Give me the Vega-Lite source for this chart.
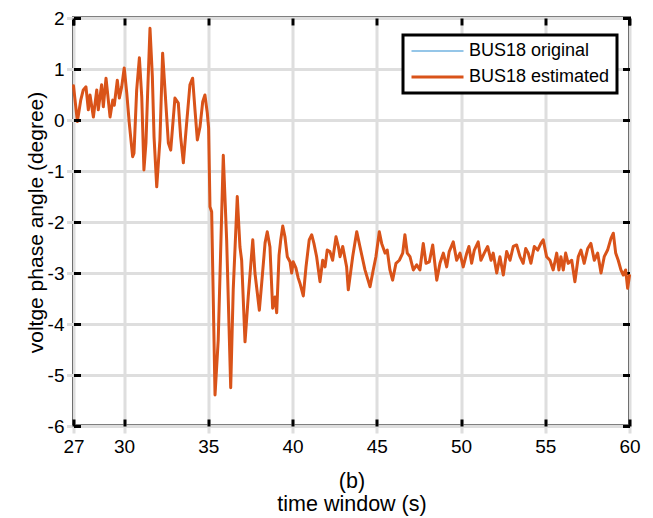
{
 "$schema": "https://vega.github.io/schema/vega-lite/v6.json",
 "width": 556, "height": 408,
 "autosize": {"type": "none"},
 "padding": {"left": 73.5, "top": 18, "right": 23.5, "bottom": 92},
 "background": "white",
 "config": {
   "font": "Liberation Sans",
   "view": {"stroke": "black", "strokeWidth": 3},
   "axis": {"labelFont": "Liberation Sans", "labelFontSize": 19, "labelColor": "black", "titleFont": "Liberation Sans", "titleFontSize": 21, "titleFontWeight": "normal", "titleColor": "black", "gridColor": "#dedede", "gridWidth": 3, "gridOpacity": 1, "domain": false, "ticks": true, "tickColor": "black", "tickOpacity": 1, "tickWidth": 3, "tickSize": 7, "offset": -7}
 },
 "data": {"values": [
  {"t":27.0,"original":0.67,"estimated":0.67},{"t":27.23,"original":-0.03,"estimated":-0.03},{"t":27.43,"original":0.39,"estimated":0.39},{"t":27.58,"original":0.59,"estimated":0.59},{"t":27.74,"original":0.65,"estimated":0.65},{"t":27.88,"original":0.2,"estimated":0.2},{"t":27.98,"original":0.49,"estimated":0.49},{"t":28.18,"original":0.06,"estimated":0.06},{"t":28.38,"original":0.59,"estimated":0.59},{"t":28.47,"original":0.2,"estimated":0.2},{"t":28.67,"original":0.69,"estimated":0.69},{"t":28.77,"original":0.26,"estimated":0.26},{"t":28.93,"original":0.82,"estimated":0.82},{"t":29.17,"original":0.06,"estimated":0.06},{"t":29.33,"original":0.39,"estimated":0.39},{"t":29.42,"original":0.29,"estimated":0.29},{"t":29.6,"original":0.78,"estimated":0.78},{"t":29.72,"original":0.43,"estimated":0.43},{"t":29.86,"original":0.65,"estimated":0.65},{"t":30.01,"original":1.02,"estimated":1.02},{"t":30.16,"original":0.53,"estimated":0.53},{"t":30.31,"original":-0.06,"estimated":-0.06},{"t":30.51,"original":-0.72,"estimated":-0.72},{"t":30.59,"original":-0.65,"estimated":-0.65},{"t":30.75,"original":0.59,"estimated":0.59},{"t":30.91,"original":1.22,"estimated":1.22},{"t":31.05,"original":0.46,"estimated":0.46},{"t":31.18,"original":-0.98,"estimated":-0.98},{"t":31.3,"original":-0.45,"estimated":-0.45},{"t":31.4,"original":0.53,"estimated":0.53},{"t":31.54,"original":1.8,"estimated":1.8},{"t":31.68,"original":0.85,"estimated":0.85},{"t":31.78,"original":-0.33,"estimated":-0.33},{"t":31.94,"original":-1.31,"estimated":-1.31},{"t":32.13,"original":-0.39,"estimated":-0.39},{"t":32.29,"original":1.31,"estimated":1.31},{"t":32.43,"original":0.59,"estimated":0.59},{"t":32.63,"original":-0.45,"estimated":-0.45},{"t":32.77,"original":-0.59,"estimated":-0.59},{"t":33.02,"original":0.43,"estimated":0.43},{"t":33.22,"original":0.33,"estimated":0.33},{"t":33.36,"original":-0.33,"estimated":-0.33},{"t":33.52,"original":-0.84,"estimated":-0.84},{"t":33.68,"original":-0.2,"estimated":-0.2},{"t":33.91,"original":0.69,"estimated":0.69},{"t":34.07,"original":0.82,"estimated":0.82},{"t":34.21,"original":0.2,"estimated":0.2},{"t":34.35,"original":-0.39,"estimated":-0.39},{"t":34.51,"original":-0.13,"estimated":-0.13},{"t":34.67,"original":0.36,"estimated":0.36},{"t":34.8,"original":0.49,"estimated":0.49},{"t":34.94,"original":0.14,"estimated":0.14},{"t":35.02,"original":-0.16,"estimated":-0.16},{"t":35.1,"original":-1.7,"estimated":-1.7},{"t":35.2,"original":-1.8,"estimated":-1.8},{"t":35.4,"original":-5.39,"estimated":-5.39},{"t":35.59,"original":-4.31,"estimated":-4.31},{"t":35.89,"original":-0.69,"estimated":-0.69},{"t":36.09,"original":-2.35,"estimated":-2.35},{"t":36.33,"original":-5.25,"estimated":-5.25},{"t":36.48,"original":-3.33,"estimated":-3.33},{"t":36.72,"original":-1.5,"estimated":-1.5},{"t":36.88,"original":-2.49,"estimated":-2.49},{"t":36.98,"original":-2.75,"estimated":-2.75},{"t":37.18,"original":-4.35,"estimated":-4.35},{"t":37.37,"original":-3.47,"estimated":-3.47},{"t":37.64,"original":-2.35,"estimated":-2.35},{"t":37.77,"original":-3.0,"estimated":-3.0},{"t":38.03,"original":-3.73,"estimated":-3.73},{"t":38.17,"original":-3.2,"estimated":-3.2},{"t":38.37,"original":-2.41,"estimated":-2.41},{"t":38.5,"original":-2.19,"estimated":-2.19},{"t":38.66,"original":-2.49,"estimated":-2.49},{"t":38.82,"original":-3.69,"estimated":-3.69},{"t":38.96,"original":-3.47,"estimated":-3.47},{"t":39.06,"original":-3.78,"estimated":-3.78},{"t":39.2,"original":-2.65,"estimated":-2.65},{"t":39.3,"original":-2.35,"estimated":-2.35},{"t":39.42,"original":-2.08,"estimated":-2.08},{"t":39.55,"original":-2.29,"estimated":-2.29},{"t":39.69,"original":-2.68,"estimated":-2.68},{"t":39.85,"original":-2.78,"estimated":-2.78},{"t":39.95,"original":-3.0,"estimated":-3.0},{"t":40.04,"original":-2.78,"estimated":-2.78},{"t":40.2,"original":-2.9,"estimated":-2.9},{"t":40.34,"original":-3.1,"estimated":-3.1},{"t":40.44,"original":-3.2,"estimated":-3.2},{"t":40.64,"original":-3.45,"estimated":-3.45},{"t":40.8,"original":-2.88,"estimated":-2.88},{"t":40.99,"original":-2.35,"estimated":-2.35},{"t":41.14,"original":-2.25,"estimated":-2.25},{"t":41.27,"original":-2.42,"estimated":-2.42},{"t":41.43,"original":-2.68,"estimated":-2.68},{"t":41.63,"original":-3.17,"estimated":-3.17},{"t":41.79,"original":-2.75,"estimated":-2.75},{"t":41.93,"original":-2.88,"estimated":-2.88},{"t":42.06,"original":-2.55,"estimated":-2.55},{"t":42.22,"original":-2.58,"estimated":-2.58},{"t":42.38,"original":-2.75,"estimated":-2.75},{"t":42.58,"original":-2.29,"estimated":-2.29},{"t":42.72,"original":-2.48,"estimated":-2.48},{"t":42.82,"original":-2.68,"estimated":-2.68},{"t":42.98,"original":-2.48,"estimated":-2.48},{"t":43.21,"original":-2.88,"estimated":-2.88},{"t":43.31,"original":-3.33,"estimated":-3.33},{"t":43.57,"original":-2.68,"estimated":-2.68},{"t":43.81,"original":-2.19,"estimated":-2.19},{"t":44.0,"original":-2.48,"estimated":-2.48},{"t":44.3,"original":-2.94,"estimated":-2.94},{"t":44.6,"original":-3.27,"estimated":-3.27},{"t":44.79,"original":-2.94,"estimated":-2.94},{"t":44.95,"original":-2.68,"estimated":-2.68},{"t":45.15,"original":-2.19,"estimated":-2.19},{"t":45.29,"original":-2.42,"estimated":-2.42},{"t":45.49,"original":-2.61,"estimated":-2.61},{"t":45.62,"original":-2.55,"estimated":-2.55},{"t":45.78,"original":-2.94,"estimated":-2.94},{"t":45.94,"original":-3.14,"estimated":-3.14},{"t":46.14,"original":-2.81,"estimated":-2.81},{"t":46.34,"original":-2.75,"estimated":-2.75},{"t":46.54,"original":-2.61,"estimated":-2.61},{"t":46.67,"original":-2.25,"estimated":-2.25},{"t":46.81,"original":-2.61,"estimated":-2.61},{"t":46.97,"original":-2.68,"estimated":-2.68},{"t":47.17,"original":-2.94,"estimated":-2.94},{"t":47.37,"original":-2.84,"estimated":-2.84},{"t":47.56,"original":-2.94,"estimated":-2.94},{"t":47.76,"original":-2.42,"estimated":-2.42},{"t":47.92,"original":-2.81,"estimated":-2.81},{"t":48.12,"original":-2.78,"estimated":-2.78},{"t":48.32,"original":-2.45,"estimated":-2.45},{"t":48.56,"original":-3.14,"estimated":-3.14},{"t":48.75,"original":-2.81,"estimated":-2.81},{"t":48.95,"original":-2.61,"estimated":-2.61},{"t":49.15,"original":-2.88,"estimated":-2.88},{"t":49.3,"original":-2.58,"estimated":-2.58},{"t":49.54,"original":-2.39,"estimated":-2.39},{"t":49.74,"original":-2.75,"estimated":-2.75},{"t":49.94,"original":-2.61,"estimated":-2.61},{"t":50.13,"original":-2.88,"estimated":-2.88},{"t":50.34,"original":-2.61,"estimated":-2.61},{"t":50.47,"original":-2.48,"estimated":-2.48},{"t":50.63,"original":-2.81,"estimated":-2.81},{"t":50.79,"original":-2.55,"estimated":-2.55},{"t":51.02,"original":-2.39,"estimated":-2.39},{"t":51.18,"original":-2.75,"estimated":-2.75},{"t":51.38,"original":-2.61,"estimated":-2.61},{"t":51.58,"original":-2.48,"estimated":-2.48},{"t":51.78,"original":-2.75,"estimated":-2.75},{"t":51.91,"original":-2.61,"estimated":-2.61},{"t":52.12,"original":-3.0,"estimated":-3.0},{"t":52.31,"original":-2.68,"estimated":-2.68},{"t":52.51,"original":-3.04,"estimated":-3.04},{"t":52.71,"original":-2.58,"estimated":-2.58},{"t":52.91,"original":-2.75,"estimated":-2.75},{"t":53.1,"original":-2.48,"estimated":-2.48},{"t":53.3,"original":-2.45,"estimated":-2.45},{"t":53.5,"original":-2.68,"estimated":-2.68},{"t":53.69,"original":-2.81,"estimated":-2.81},{"t":53.84,"original":-2.52,"estimated":-2.52},{"t":53.99,"original":-2.61,"estimated":-2.61},{"t":54.15,"original":-2.81,"estimated":-2.81},{"t":54.35,"original":-2.48,"estimated":-2.48},{"t":54.55,"original":-2.55,"estimated":-2.55},{"t":54.74,"original":-2.42,"estimated":-2.42},{"t":54.88,"original":-2.35,"estimated":-2.35},{"t":55.08,"original":-2.68,"estimated":-2.68},{"t":55.28,"original":-2.75,"estimated":-2.75},{"t":55.47,"original":-2.94,"estimated":-2.94},{"t":55.68,"original":-2.61,"estimated":-2.61},{"t":55.81,"original":-2.94,"estimated":-2.94},{"t":55.93,"original":-2.68,"estimated":-2.68},{"t":56.07,"original":-2.94,"estimated":-2.94},{"t":56.21,"original":-2.61,"estimated":-2.61},{"t":56.36,"original":-2.81,"estimated":-2.81},{"t":56.57,"original":-2.75,"estimated":-2.75},{"t":56.76,"original":-3.17,"estimated":-3.17},{"t":56.96,"original":-2.68,"estimated":-2.68},{"t":57.12,"original":-2.55,"estimated":-2.55},{"t":57.31,"original":-2.81,"estimated":-2.81},{"t":57.52,"original":-2.52,"estimated":-2.52},{"t":57.71,"original":-2.42,"estimated":-2.42},{"t":57.91,"original":-2.75,"estimated":-2.75},{"t":58.11,"original":-2.61,"estimated":-2.61},{"t":58.31,"original":-3.0,"estimated":-3.0},{"t":58.5,"original":-2.68,"estimated":-2.68},{"t":58.7,"original":-2.55,"estimated":-2.55},{"t":58.9,"original":-2.32,"estimated":-2.32},{"t":59.04,"original":-2.22,"estimated":-2.22},{"t":59.18,"original":-2.61,"estimated":-2.61},{"t":59.33,"original":-2.75,"estimated":-2.75},{"t":59.49,"original":-2.94,"estimated":-2.94},{"t":59.63,"original":-3.04,"estimated":-3.04},{"t":59.77,"original":-2.94,"estimated":-2.94},{"t":59.89,"original":-3.3,"estimated":-3.3},{"t":60.0,"original":-3.05,"estimated":-3.05}
 ]},
 "transform": [{"fold": ["original", "estimated"], "as": ["series", "angle"]}],
 "layer": [
  {
   "mark": {"type": "line", "strokeJoin": "round", "strokeCap": "round"},
   "encoding": {
    "x": {"field": "t", "type": "quantitative", "scale": {"domain": [27, 60], "nice": false, "zero": false},
          "axis": {"values": [27, 30, 35, 40, 45, 50, 55, 60], "labelFlush": false, "grid": false, "ticks": true, "zindex": 1, "title": ["(b)", "time window (s)"], "titleFontSize": 21.5, "labelPadding": 11, "titleY": 62, "titleBaseline": "middle", "titleLineHeight": 23}},
    "y": {"field": "angle", "type": "quantitative", "scale": {"domain": [-6, 2], "nice": false, "zero": false},
          "axis": {"values": [-6, -5, -4, -3, -2, -1, 0, 1, 2], "grid": false, "ticks": true, "zindex": 1, "labelExpr": "datum.value < 0 ? '-' + abs(datum.value) : '' + datum.value", "labelFlush": false, "title": "voltge phase angle (degree)", "labelPadding": 9.5, "titleX": -44.5, "titleY": 204, "titleAngle": -90, "titleAlign": "center", "titleBaseline": "middle"}},
    "color": {"field": "series", "type": "nominal", "scale": {"domain": ["original", "estimated"], "range": ["#72b3e0", "#D95319"]},
              "legend": {"orient": "none", "legendX": 329.5, "legendY": 17, "title": null, "labelExpr": "'BUS18 ' + datum.label", "labelFont": "Liberation Sans", "labelFontSize": 18, "labelColor": "black", "symbolType": "stroke", "symbolSize": 2704, "clipHeight": 18, "fillColor": "white", "strokeColor": "black", "padding": 7, "rowPadding": 8, "labelOffset": 4, "encode": {"legend": {"update": {"strokeWidth": {"value": 3}}}}}},
    "strokeWidth": {"field": "series", "type": "nominal", "scale": {"domain": ["original", "estimated"], "range": [1.5, 3]},
              "legend": {"orient": "none", "legendX": 329.5, "legendY": 17, "title": null, "labelExpr": "'BUS18 ' + datum.label", "labelFont": "Liberation Sans", "labelFontSize": 18, "labelColor": "black", "symbolType": "stroke", "symbolSize": 2704, "clipHeight": 18, "fillColor": "white", "strokeColor": "black", "padding": 7, "rowPadding": 8, "labelOffset": 4, "encode": {"legend": {"update": {"strokeWidth": {"value": 3}}}}}}
   }
  },
  {
   "mark": {"type": "point", "opacity": 0},
   "encoding": {
    "x": {"field": "t", "type": "quantitative", "axis": {"orient": "top", "values": [27, 30, 35, 40, 45, 50, 55, 60], "labels": false, "ticks": true, "grid": true, "zindex": 0, "title": null}},
    "y": {"field": "angle", "type": "quantitative", "axis": {"orient": "right", "values": [-6, -5, -4, -3, -2, -1, 0, 1, 2], "labels": false, "ticks": true, "grid": true, "zindex": 0, "title": null}}
   }
  }
 ],
 "resolve": {"axis": {"x": "independent", "y": "independent"}}
}
